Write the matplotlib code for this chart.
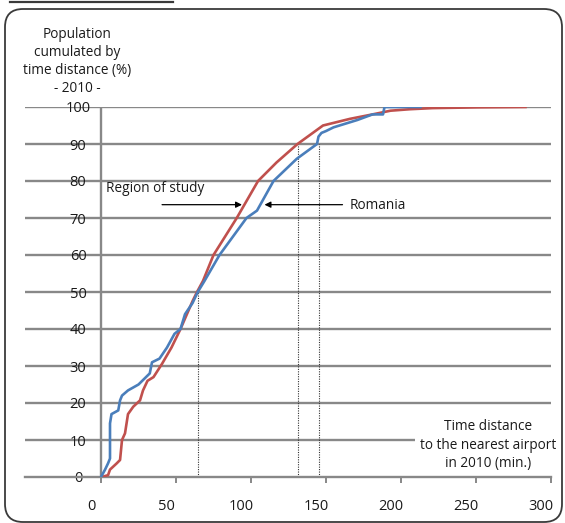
import matplotlib
matplotlib.use("Agg")
import matplotlib.pyplot as plt
from matplotlib.patches import FancyBboxPatch
from matplotlib.lines import Line2D
from matplotlib.transforms import IdentityTransform, ScaledTranslation

plt.rcParams['font.family'] = ['Open Sans', 'DejaVu Sans']

# --- data ---
# Region of study (red), cumulative population (%) vs time distance (min)
region_x = [0.5, 4.7, 6, 10.5, 12.7, 14, 16, 18, 21.5, 26, 28, 31, 35, 40.7, 47, 53,
            61, 64, 68, 75, 90.5, 104.7, 117, 131, 148, 166, 181, 193, 206, 221, 251, 283]
region_y = [0, 0.5, 2, 3.7, 4.6, 10, 11.8, 17, 19, 20.7, 23.4, 26, 27, 30.6, 35, 40,
            47.5, 50, 53, 60, 70, 80, 85, 90, 95, 96.8, 98, 99, 99.4, 99.7, 99.9, 100]

# Romania (blue)
romania_x = [0, 2.7, 4.7, 6, 6, 7, 11.5, 12.7, 14, 18, 25, 32.5, 34, 39, 44, 49, 53,
             56, 61, 64.5, 69, 79, 97, 104, 115, 130.5, 144, 145, 147, 150, 155, 171,
             181, 188, 189, 213]
romania_y = [0, 2, 3.7, 5, 14.5, 17, 18, 20.7, 22, 23.4, 25, 28, 31, 32, 35, 38.7, 40,
             44, 47, 50, 53, 60, 70, 72, 80, 86, 90, 92, 93, 93.5, 94.5, 96.5,
             98, 98, 100, 100]

# dotted reference lines: (x, top)
marker_x = [64.5, 131, 145]
marker_top = [50, 90, 90]

xticks = [0, 50, 100, 150, 200, 250, 300]
yticks = [0, 10, 20, 30, 40, 50, 60, 70, 80, 90, 100]

red = '#c0504d'
blue = '#4a7ebb'
grid = '#888888'
txt = '#1a1a1a'

W, H = 565, 523
fig = plt.figure(figsize=(W / 100, H / 100), dpi=100)
fig.patch.set_facecolor('white')

# axes box in pixels: x -50.7..300 -> 25..551, y 0..100 -> 477..107
left, right, bottom, top = 25, 551, 477, 107
ax = fig.add_axes([left / W, (H - bottom) / H, (right - left) / W, (bottom - top) / H])
ax.set_xlim(-50.67, 300)
ax.set_ylim(0, 100)
ax.patch.set_alpha(0)

for s in ['top', 'right', 'left']:
    ax.spines[s].set_visible(False)
ax.spines['bottom'].set_color(grid)
ax.spines['bottom'].set_linewidth(1.7)

# horizontal grid lines (the 10 % one stops short to leave room for the label)
for y in yticks[1:]:
    xend = 209 if y == 10 else 300
    ax.hlines(y, -50.67, xend, color=grid, lw=1.7, zorder=1)
ax.vlines(0, 0, 100, color=grid, lw=1.7, zorder=1)

for x, t in zip(marker_x, marker_top):
    ax.vlines(x, 0, t, color='#333333', lw=0.8, linestyles=(0, (1, 1.2)), zorder=2)

ax.plot(region_x, region_y, color=red, lw=1.9, zorder=3)
ax.plot(romania_x, romania_y, color=blue, lw=1.9, zorder=4)

# ticks
ax.set_xticks(xticks)
ax.set_xticklabels([str(v) for v in xticks])
ax.tick_params(axis='x', length=4, width=1.4, color=grid, pad=12, labelsize=10.5,
               labelcolor=txt)
shift = ScaledTranslation(-10 / 100, 0, fig.dpi_scale_trans)
for tick in ax.xaxis.get_major_ticks():
    tick.label1.set_transform(tick.label1.get_transform() + shift)

ax.set_yticks(yticks)
ax.set_yticklabels([str(v) for v in yticks])
ax.tick_params(axis='y', length=0, pad=-38.2, labelsize=10.5, labelcolor=txt)
for lbl in ax.get_yticklabels():
    lbl.set_horizontalalignment('center')

# labels
ax.text(-16, 112.3, "Population\ncumulated by\ntime distance (%)\n- 2010 -",
        ha='center', va='center', multialignment='center', fontsize=9.8,
        color=txt, linespacing=1.3)
ax.text(258, 8.6, "Time distance\nto the nearest airport\nin 2010 (min.)",
        ha='center', va='center', multialignment='center', fontsize=9.8,
        color=txt, linespacing=1.3)

ax.text(3.3, 78, "Region of study", ha='left', va='center', fontsize=9.8, color=txt)
ax.annotate('', xy=(94, 73.6), xytext=(40.7, 73.6),
            arrowprops=dict(arrowstyle='-|>', color='black', lw=0.9,
                            mutation_scale=9, shrinkA=0, shrinkB=0))
ax.text(166, 73.4, "Romania", ha='left', va='center', fontsize=9.8, color=txt)
ax.annotate('', xy=(109, 73.6), xytext=(161, 73.6),
            arrowprops=dict(arrowstyle='-|>', color='black', lw=0.9,
                            mutation_scale=9, shrinkA=0, shrinkB=0))

# rounded frame and the fragment of the rule above it
frame = FancyBboxPatch((5, 1), 557, 513, boxstyle='round,pad=0,rounding_size=18',
                       transform=IdentityTransform(), fill=False,
                       edgecolor='#3a3a3a', lw=1.3)
fig.add_artist(frame)
fig.add_artist(Line2D([10, 173], [H - 2, H - 2], transform=IdentityTransform(),
                      color='#3a3a3a', lw=1.6))

fig.savefig('out.png', dpi=100)
